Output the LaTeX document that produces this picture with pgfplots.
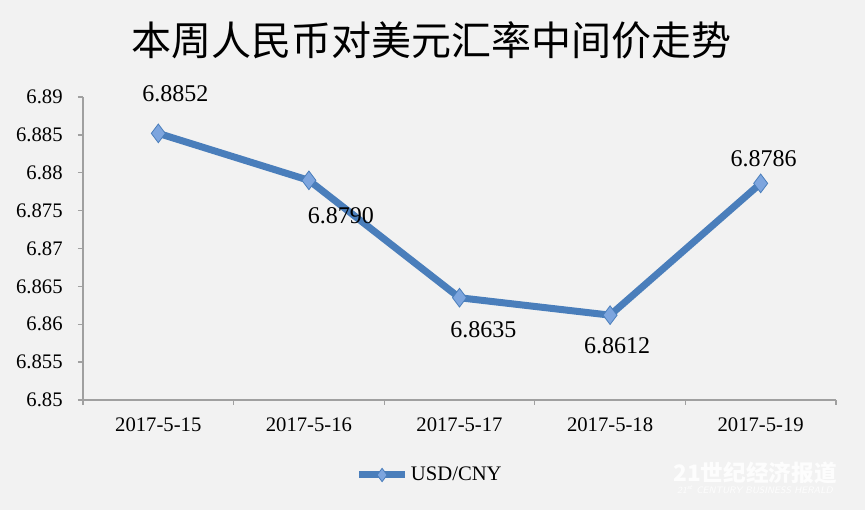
\documentclass[border=0pt]{standalone}
\usepackage{pgfplots}
\pgfplotsset{compat=1.18}
\usepackage{fontspec}
\setmainfont{Liberation Serif}
\newfontfamily\cjk{Noto Sans CJK SC}
\definecolor{bgcol}{RGB}{242,242,242}
\definecolor{linecol}{RGB}{74,126,187}
\definecolor{markfill}{RGB}{125,165,222}
\definecolor{axisgray}{RGB}{160,160,160}

\begin{document}
\begin{tikzpicture}
% canvas 865x510 px, 1px = 0.75pt, axis origin at (83px,400px)
\fill[bgcol] (-62.25pt,-82.5pt) rectangle (586.5pt,300pt);
\begin{axis}[
  scale only axis,
  width=564.75pt, height=227.25pt,
  xmin=-0.5, xmax=4.5, ymin=6.85, ymax=6.89,
  axis x line*=bottom, axis y line*=left,
  axis line style={draw=axisgray, line width=1pt, -},
  tick align=outside, major tick length=3.75pt,
  tick style={draw=axisgray, line width=1pt},
  xtick={-0.5,0.5,1.5,2.5,3.5,4.5},
  x tick label as interval,
  xticklabels={2017-5-15,2017-5-16,2017-5-17,2017-5-18,2017-5-19},
  ytick={6.85,6.855,6.86,6.865,6.87,6.875,6.88,6.885,6.89},
  yticklabels={6.85,6.855,6.86,6.865,6.87,6.875,6.88,6.885,6.89},
  ticklabel style={font=\fontsize{15.5}{15.5}\selectfont, text=black},
  xticklabel style={yshift=-6pt},
  yticklabel style={xshift=-8pt},
  legend style={at={(axis description cs:0.461,0)}, anchor=center, yshift=-56.25pt,
    draw=none, fill=none, font=\fontsize{15.5}{15.5}\selectfont},
  legend image code/.code={\draw[mark repeat=2,mark phase=2, mark size=5pt] plot coordinates {(0pt,0pt) (17pt,0pt) (34pt,0pt)};},
  clip=false,
]
\addplot[color=linecol, line width=5.25pt, mark=diamond*,
  mark size=7pt, mark options={fill=markfill, draw=linecol, line width=0.6pt}]
  coordinates {(0,6.8852) (1,6.8790) (2,6.8635) (3,6.8612) (4,6.8786)};
\legend{USD/CNY}
\begin{scope}[every node/.style={font=\fontsize{18}{18}\selectfont}]
\node at (axis cs:0,6.8852) [xshift=12.75pt, yshift=30pt] {6.8852};
\node at (axis cs:1,6.8790) [xshift=24pt, yshift=-26.25pt] {6.8790};
\node at (axis cs:2,6.8635) [xshift=18pt, yshift=-24pt] {6.8635};
\node at (axis cs:3,6.8612) [xshift=5.25pt, yshift=-23.25pt] {6.8612};
\node at (axis cs:4,6.8786) [xshift=2.25pt, yshift=18.75pt] {6.8786};
\end{scope}
\end{axis}
\node at (261.75pt,269.5pt) {\cjk\fontsize{30}{30}\selectfont 本周人民币对美元汇率中间价走势};
\node[white, opacity=0.85] at (504pt,-54.75pt) {\cjk\bfseries\fontsize{17}{17}\selectfont 21世纪经济报道};
\node[white, opacity=0.85] at (504pt,-67.5pt) {\sffamily\itshape\fontsize{7}{7}\selectfont 21\textsuperscript{st} CENTURY BUSINESS HERALD};
\end{tikzpicture}
\end{document}
